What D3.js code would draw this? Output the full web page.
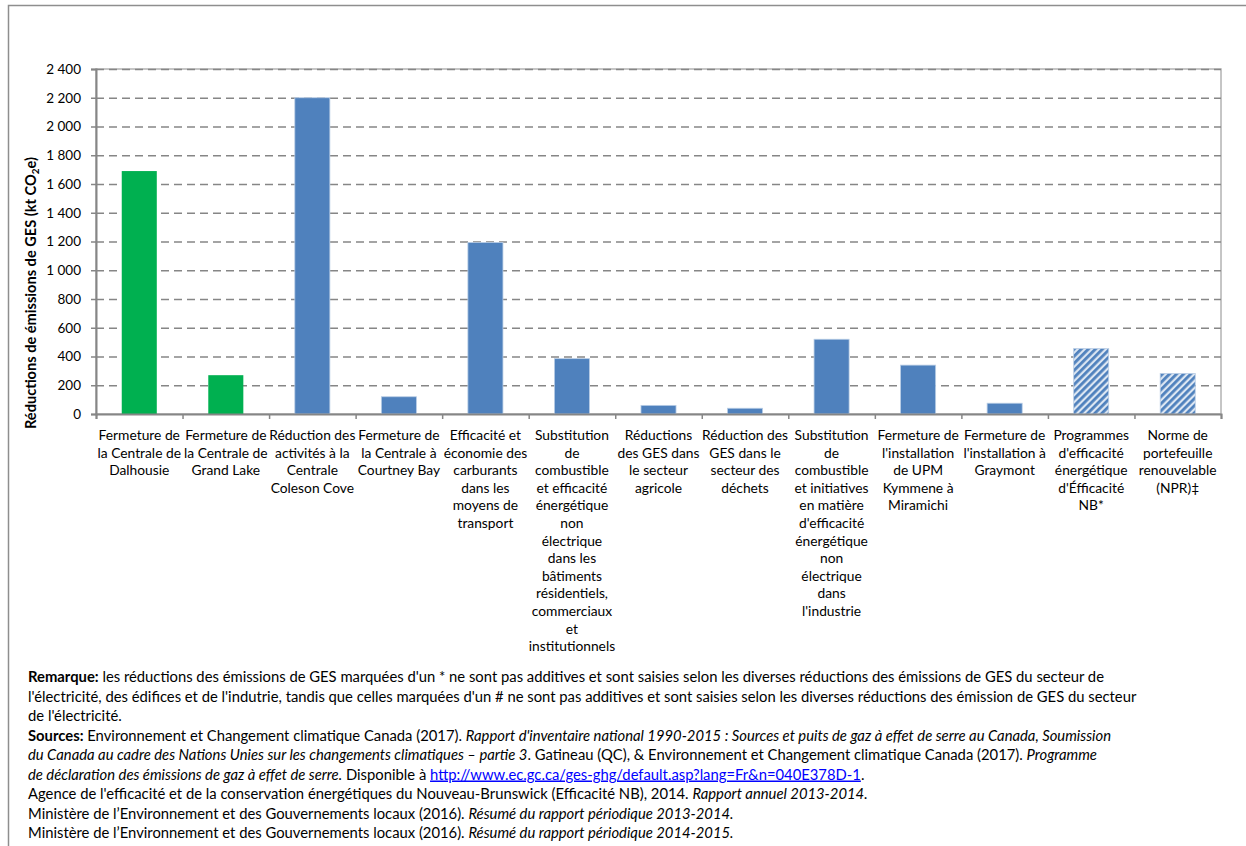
<!DOCTYPE html>
<html>
<head>
<meta charset="utf-8">
<script src="https://cdn.jsdelivr.net/npm/d3@7"></script>
<style>
  body { margin: 0; background: #fff; }
  svg { display: block; font-family: Lato, "Open Sans", sans-serif; }
</style>
</head>
<body>
<script>
// categories (line breaks as in the original chart)
const categories = [
  ["Fermeture de", "la Centrale de", "Dalhousie"],
  ["Fermeture de", "la Centrale de", "Grand Lake"],
  ["Réduction des", "activités à la", "Centrale", "Coleson Cove"],
  ["Fermeture de", "la Centrale à", "Courtney Bay"],
  ["Efficacité et", "économie des", "carburants", "dans les", "moyens de", "transport"],
  ["Substitution", "de", "combustible", "et efficacité", "énergétique", "non", "électrique", "dans les", "bâtiments", "résidentiels,", "commerciaux", "et", "institutionnels"],
  ["Réductions", "des GES dans", "le secteur", "agricole"],
  ["Réduction des", "GES dans le", "secteur des", "déchets"],
  ["Substitution", "de", "combustible", "et initiatives", "en matière", "d'efficacité", "énergétique", "non", "électrique", "dans", "l'industrie"],
  ["Fermeture de", "l'installation", "de UPM", "Kymmene à", "Miramichi"],
  ["Fermeture de", "l'installation à", "Graymont"],
  ["Programmes", "d'efficacité", "énergétique", "d'Éfficacité", "NB*"],
  ["Norme de", "portefeuille", "renouvelable", "(NPR)‡"]
];
const values = [1690, 270, 2200, 120, 1193, 385, 60, 40, 520, 340, 75, 455, 282];
// fill style per bar: green = closures, blue = measures, hatched = non additive
const kinds = ["green", "green", "blue", "blue", "blue", "blue", "blue", "blue", "blue", "blue", "blue", "hatch", "hatch"];
const yTicks = [0, 200, 400, 600, 800, 1000, 1200, 1400, 1600, 1800, 2000, 2200, 2400];

const W = 1246, H = 846;
const pL = 96, pR = 1221, pT = 69, pB = 414;

const svg = d3.select("body").append("svg")
  .attr("width", W)
  .attr("height", H);

const defs = svg.append("defs");
const pat = defs.append("pattern")
  .attr("id", "hatch")
  .attr("patternUnits", "userSpaceOnUse")
  .attr("width", 5)
  .attr("height", 5)
  .attr("patternTransform", "rotate(45)");
pat.append("rect").attr("width", 5).attr("height", 5).attr("fill", "#dce6f2");
pat.append("rect").attr("width", 2.8).attr("height", 5).attr("fill", "#4f81bd");

// outer frame (only left and top edges visible)
svg.append("path")
  .attr("d", `M8.5,${H} V5.5 H${W}`)
  .attr("fill", "none")
  .attr("stroke", "#8e8e8e")
  .attr("stroke-width", 1.5);

const x = d3.scaleBand()
  .domain(d3.range(categories.length))
  .range([pL, pR])
  .paddingInner(0.595)
  .paddingOuter(0.2975);

const xEdge = d3.scaleLinear()
  .domain([0, categories.length])
  .range([pL, pR]);

const y = d3.scaleLinear()
  .domain([0, 2400])
  .range([pB, pT]);

const locale = d3.formatLocale({ decimal: ",", thousands: " ", grouping: [3], currency: ["", " $"] });
const fmt = locale.format(",d");

// plot border (light)
svg.append("rect")
  .attr("x", pL).attr("y", pT)
  .attr("width", pR - pL).attr("height", pB - pT)
  .attr("fill", "none")
  .attr("stroke", "#b3b3b3")
  .attr("stroke-width", 1.5);

// grid lines
const grid = svg.append("g")
  .attr("transform", `translate(${pL},0)`)
  .call(d3.axisLeft(y).tickValues(yTicks.filter(d => d > 0)).tickSize(-(pR - pL)).tickFormat(""));
grid.select(".domain").remove();
grid.selectAll("line")
  .attr("stroke", "#868686")
  .attr("stroke-width", 1.5)
  .attr("stroke-dasharray", "8,5");

// bars
svg.append("g").selectAll("rect")
  .data(values)
  .join("rect")
  .attr("x", (d, i) => x(i))
  .attr("y", d => y(d))
  .attr("width", x.bandwidth())
  .attr("height", d => y(0) - y(d))
  .attr("fill", (d, i) => kinds[i] === "green" ? "#00b050" : kinds[i] === "blue" ? "#4f81bd" : "url(#hatch)")
  .attr("stroke", (d, i) => kinds[i] === "green" ? "none" : "#b9cde5")
  .attr("stroke-width", 0.8);

// y axis
const yAxis = svg.append("g")
  .attr("transform", `translate(${pL},0)`)
  .call(d3.axisLeft(y).tickValues(yTicks).tickSize(5).tickPadding(10).tickFormat(fmt));
yAxis.select(".domain").attr("stroke", "#868686").attr("stroke-width", 2);
yAxis.selectAll("line").attr("stroke", "#868686").attr("stroke-width", 1.5);
yAxis.selectAll("text")
  .attr("font-family", "Lato, sans-serif")
  .attr("font-size", 13.5)
  .attr("fill", "#000");

// x axis (ticks at category edges)
const xAxis = svg.append("g")
  .attr("transform", `translate(0,${pB})`)
  .call(d3.axisBottom(xEdge).tickValues(d3.range(categories.length + 1)).tickSize(5).tickFormat(""));
xAxis.select(".domain").attr("stroke", "#868686").attr("stroke-width", 2);
xAxis.selectAll("line").attr("stroke", "#868686").attr("stroke-width", 1.5);

// category labels
const lab = svg.append("g")
  .attr("font-size", 13.8)
  .attr("text-anchor", "middle")
  .attr("fill", "#000");
categories.forEach((lines, i) => {
  const t = lab.append("text")
    .attr("x", x(i) + x.bandwidth() / 2)
    .attr("y", 440);
  lines.forEach((s, j) => {
    t.append("tspan")
      .attr("x", x(i) + x.bandwidth() / 2)
      .attr("dy", j === 0 ? 0 : 17.6)
      .text(s);
  });
});

// y axis title
const yt = svg.append("text")
  .attr("transform", "translate(36,293) rotate(-90)")
  .attr("text-anchor", "middle")
  .attr("font-size", 14.6)
  .attr("font-weight", "bold");
yt.append("tspan").text("Réductions de émissions de GES (kt CO");
yt.append("tspan").attr("font-size", 10).attr("dy", 3).text("2");
yt.append("tspan").attr("dy", -3).text("e)");

// notes
const notes = [
  [["b", "Remarque:"], ["n", " les réductions des émissions de GES marquées d'un * ne sont pas additives et sont saisies selon les diverses réductions des émissions de GES du secteur de"]],
  [["n", "l'électricité, des édifices et de l'indutrie, tandis que celles marquées d'un # ne sont pas additives et sont saisies selon les diverses réductions des émission de GES du secteur"]],
  [["n", "de l'électricité."]],
  [["b", "Sources:"], ["n", " Environnement et Changement climatique Canada (2017). "], ["i", "Rapport d'inventaire national 1990-2015 : Sources et puits de gaz à effet de serre au Canada, Soumission"]],
  [["i", "du Canada au cadre des Nations Unies sur les changements climatiques – partie 3"], ["n", ". Gatineau (QC), & Environnement et Changement climatique Canada (2017). "], ["i", "Programme"]],
  [["i", "de déclaration des émissions de gaz à effet de serre."], ["n", " Disponible à "], ["a", "http://www.ec.gc.ca/ges-ghg/default.asp?lang=Fr&n=040E378D-1"], ["n", "."]],
  [["n", "Agence de l'efficacité et de la conservation énergétiques du Nouveau-Brunswick (Efficacité NB), 2014. "], ["i", "Rapport annuel 2013-2014."]],
  [["n", "Ministère de l’Environnement et des Gouvernements locaux (2016). "], ["i", "Résumé du rapport périodique 2013-2014."]],
  [["n", "Ministère de l’Environnement et des Gouvernements locaux (2016). "], ["i", "Résumé du rapport périodique 2014-2015."]]
];
const ng = svg.append("g").attr("font-size", 14.8).attr("fill", "#000");
notes.forEach((parts, i) => {
  const t = ng.append("text")
    .attr("x", 28)
    .attr("y", 682 + i * 19.5)
    .attr("xml:space", "preserve");
  parts.forEach(([k, s]) => {
    const sp = t.append("tspan").text(s);
    if (k === "b") sp.attr("font-weight", "bold");
    if (k === "i") sp.attr("font-style", "italic");
    if (k === "a") sp.attr("fill", "#0000ff").attr("text-decoration", "underline");
  });
});
</script>
</body>
</html>
